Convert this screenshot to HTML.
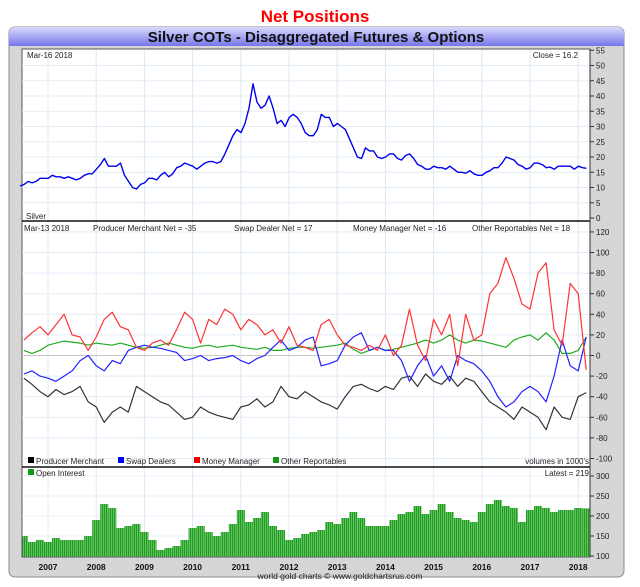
<!DOCTYPE html>
<html><head><meta charset="utf-8"><style>
html,body{margin:0;padding:0;background:#fff;width:640px;height:587px;overflow:hidden;font-family:"Liberation Sans",sans-serif;}
svg{display:block}
</style></head><body>
<svg id="c" width="640" height="587" viewBox="0 0 640 587" xmlns="http://www.w3.org/2000/svg">
<defs><linearGradient id="hg" x1="0" y1="0" x2="0" y2="1"><stop offset="0" stop-color="#dadaff"/><stop offset="1" stop-color="#7676ea"/></linearGradient></defs>
<text x="315" y="22" text-anchor="middle" font-size="17" font-weight="bold" fill="#f00">Net Positions</text>
<rect x="9" y="27" width="615" height="550" rx="6" fill="#d6d6d6" stroke="#8a8a8a"/>
<path d="M9 46 V33 a6 6 0 0 1 6 -6 H618 a6 6 0 0 1 6 6 V46 Z" fill="url(#hg)"/>
<text x="316" y="42" text-anchor="middle" font-size="15" font-weight="bold" fill="#111">Silver COTs - Disaggregated Futures &amp; Options</text>
<rect x="22" y="49" width="568" height="508" fill="#fff" stroke="#555"/>
<g id="grid"></g><g id="marks"></g><g id="labels" font-size="8" fill="#222"></g>
</svg>
<script>
const priceStart = 2006.42;
const price = [10.5,11,12,11.5,12,13,13,
13,14,13.5,13.5,13,13.5,13,12.5,13,14,14.5,14.5,
16,17.5,19.5,17,17,17,18,14,12,10,9.5,11,
11.5,13,13,12.5,14,15,13.5,14.5,16.5,17,18,17.5,
17,16,17,18,18.5,18.5,18,18.5,21,24,27,29,
28,31,36,44,38,36,37,40,36,31,32,30,
33,34,33,31,28,27,27,29,34,33,33,30,
31,30,29,26,23,20,19.5,23,22,22,20,19.5,
20,21,21,19.5,19,20.5,21,19.5,17.5,17,16,16,
17,16.5,16.5,16,17,16,15,15,14.7,15.5,14.5,14,
14,15,15.5,16.5,16.5,18,20,19.5,19,17.5,17,16,
16.5,18,18,17.5,16.5,16.7,16,17,17,17,17,16,
17,16.5,16.3];
const cotStart = 2006.5;
const producer = [-22,-28,-35,-40,-33,-38,-35,-30,-45,-50,-65,-55,-50,-55,-30,-35,-40,-45,-48,-55,-62,-60,-50,-55,-58,-60,-62,-50,-48,-42,-50,-45,-30,-40,-42,-35,-40,-45,-48,-52,-40,-30,-28,-32,-35,-30,-33,-22,-20,-30,-18,-25,-28,-20,-30,-22,-25,-35,-45,-50,-55,-62,-50,-55,-60,-72,-50,-60,-62,-40,-36];
const swap = [-18,-15,-20,-22,-25,-20,-15,-5,0,-10,-15,-5,-8,5,8,10,8,7,5,3,-5,-3,0,-5,-3,-2,0,-5,-8,-3,0,8,15,5,8,15,18,-10,-8,-5,10,18,22,5,8,5,5,-5,-25,-10,0,-20,-10,-25,0,-5,-8,-15,-25,-40,-50,-45,-35,-30,-35,-45,-20,15,-10,-15,18];
const money = [15,22,28,20,30,40,20,18,5,18,35,42,28,25,8,5,12,15,10,25,42,35,12,35,30,45,40,25,35,30,20,25,12,28,10,8,5,30,35,20,10,8,5,10,5,20,0,10,45,10,-5,35,20,40,-10,40,15,20,60,70,95,75,50,45,80,90,25,10,70,60,-14];
const other = [5,2,5,10,12,14,13,12,10,12,11,10,12,10,8,7,8,10,12,10,8,7,9,10,8,9,10,8,7,6,8,5,5,7,8,8,7,8,9,10,12,6,2,5,8,5,6,8,10,12,15,12,15,20,15,12,15,14,12,10,8,15,18,20,15,22,15,2,2,5,18];
const openInterest = [150,135,140,135,145,140,140,140,150,190,230,220,170,175,180,160,140,115,120,125,140,170,175,160,150,160,180,215,185,195,210,175,165,140,145,155,160,165,185,180,195,210,195,175,175,175,190,205,210,225,205,215,230,210,195,190,185,210,230,240,225,220,185,215,225,220,210,215,215,220,219];
const years = ["2007","2008","2009","2010","2011","2012","2013","2014","2015","2016","2017","2018"];
const priceTicks = [0,5,10,15,20,25,30,35,40,45,50,55];
const cotTicks = [-100,-80,-60,-40,-20,0,20,40,60,80,100,120];
const oiTicks = [100,150,200,250,300];

const X = t => 48 + (t - 2007) * 48.2;
const Yp = v => 218 - v * 3.05;
const Yc = v => 355.5 - v * 1.03;
const Yo = v => 556 - (v - 100) * 0.4;
const NS = "http://www.w3.org/2000/svg";
function mk(tag, parent, attrs){const e=document.createElementNS(NS,tag);for(const k in attrs)e.setAttribute(k,attrs[k]);parent.appendChild(e);return e;}
const grid=document.getElementById('grid'), marks=document.getElementById('marks'), labels=document.getElementById('labels');

years.forEach((y,i)=>{const x=X(+y);
  const g=mk('line',grid,{x1:x,x2:x,y1:50,y2:556,stroke:'#dbe8f4','stroke-width':1});
  
  
  const t=mk('text',labels,{x:x,y:570,'text-anchor':'middle','font-weight':'bold','font-size':'8.5',fill:'#111'});
  t.textContent=y;
  
  
});
priceTicks.forEach(v=>{const y=Yp(v);
  if(v>0&&v<55) mk('line',grid,{x1:22,x2:590,y1:y,y2:y,stroke:'#e2ecf6'});
  mk('line',grid,{x1:590,x2:594,y1:y,y2:y,stroke:'#333'});
  const t=mk('text',labels,{x:596,y:y+3});t.textContent=v;
  
  
});
cotTicks.forEach(v=>{const y=Yc(v);
  mk('line',grid,{x1:22,x2:590,y1:y,y2:y,stroke:v===0?'#c8c8c8':'#e2ecf6'});
  mk('line',grid,{x1:590,x2:594,y1:y,y2:y,stroke:'#333'});
  const t=mk('text',labels,{x:596,y:y+3});t.textContent=v;
  
  
});
oiTicks.forEach(v=>{const y=Yo(v);
  if(v>100) mk('line',grid,{x1:22,x2:590,y1:y,y2:y,stroke:'#e2ecf6'});
  mk('line',grid,{x1:590,x2:594,y1:y,y2:y,stroke:'#333'});
  const t=mk('text',labels,{x:596,y:y+3});t.textContent=v;
  
  
});

let d=price.map((v,i)=>(i?'L':'M')+X(priceStart+i/12).toFixed(1)+' '+Yp(v).toFixed(1)).join(' ');
const pl=mk('path',marks,{d:d,fill:'none',stroke:'#0000ee','stroke-width':1.4,'stroke-linejoin':'round'});



[[other,'#22aa22','other-reportables-line'],[producer,'#333','producer-merchant-line'],[swap,'#2222ff','swap-dealers-line'],[money,'#ff3333','money-manager-line']].forEach(([arr,col,name])=>{
  const dd=arr.map((v,i)=>(i?'L':'M')+X(cotStart+i/6).toFixed(1)+' '+Yc(v).toFixed(1)).join(' ');
  const p=mk('path',marks,{d:dd,fill:'none',stroke:col,'stroke-width':1.2,'stroke-linejoin':'round'});
  
  
});

const bw=48.2/6;
openInterest.forEach((v,i)=>{
  const x=X(cotStart+i/6)-bw/2;const x0=Math.max(22.5,x);const y=Yo(v);
  const b=mk('rect',marks,{x:x0,y:y,width:Math.min(x+bw,590)-x0,height:556.5-y,fill:'#1ca01c'});
  
  
});
for(let x=23.5;x<590;x+=2){mk('line',marks,{x1:x,x2:x,y1:470,y2:557,stroke:'#fff','stroke-opacity':0.45,'stroke-width':0.7});}

mk('line',marks,{x1:22,x2:590,y1:221,y2:221,stroke:'#111','stroke-width':1.5});
mk('line',marks,{x1:22,x2:590,y1:467,y2:467,stroke:'#111','stroke-width':1.5});
mk('line',marks,{x1:590,x2:590,y1:49,y2:557,stroke:'#333'});

function txt(x,y,s,name,anchor){const t=mk('text',labels,{x:x,y:y,'text-anchor':anchor||'start'});t.textContent=s;
  
  return t;}
txt(27,58,'Mar-16  2018','price-date');
txt(578,58,'Close = 16.2','price-close','end');
txt(26,219,'Silver','price-series-label');
txt(24,231,'Mar-13  2018','cot-date');
txt(93,231,'Producer Merchant Net = -35','producer-net');
txt(234,231,'Swap Dealer Net = 17','swap-net');
txt(353,231,'Money Manager Net = -16','money-net');
txt(472,231,'Other Reportables Net = 18','other-net');
[['#000','Producer Merchant',28],['#0000ee','Swap Dealers',118],['#ee0000','Money Manager',194],['#119911','Other Reportables',273]].forEach(([c,s,x])=>{
  const r=mk('rect',labels,{x:x,y:457,width:6,height:6,fill:c});
  
  
  txt(x+8,464,s,'legend-entry');
});
txt(589,464,"volumes in 1000's",'volume-units','end');
const r2=mk('rect',labels,{x:28,y:469,width:6,height:6,fill:'#119911'});


txt(36,476,'Open Interest','legend-entry-oi');
txt(589,476,'Latest = 219','oi-latest','end');
const f=txt(340,579,'world gold charts \u00a9 www.goldchartsrus.com','footer-credit','middle');
f.setAttribute('font-size','8.5');
</script>
</body></html>
